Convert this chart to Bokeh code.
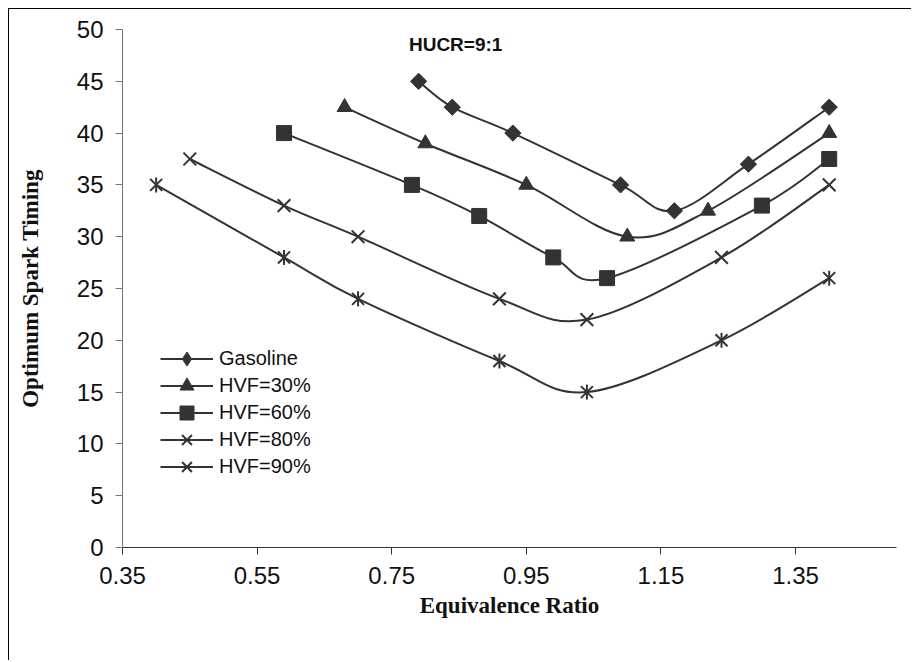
import numpy as np
from bokeh.plotting import figure
from bokeh.models import (FixedTicker, PrintfTickFormatter, Legend, LegendItem, Label,
                          ColumnDataSource)
from bokeh.embed import file_html
from bokeh.resources import INLINE

# ---- data ----
gas_x = [0.79, 0.84, 0.93, 1.09, 1.17, 1.28, 1.40]
gas_y = [45, 42.5, 40, 35, 32.5, 37, 42.5]
h30_x = [0.68, 0.80, 0.95, 1.10, 1.22, 1.40]
h30_y = [42.5, 39, 35, 30, 32.5, 40]
h60_x = [0.59, 0.78, 0.88, 0.99, 1.07, 1.30, 1.40]
h60_y = [40, 35, 32, 28, 26, 33, 37.5]
h80_x = [0.45, 0.59, 0.70, 0.91, 1.04, 1.24, 1.40]
h80_y = [37.5, 33, 30, 24, 22, 28, 35]
h90_x = [0.40, 0.59, 0.70, 0.91, 1.04, 1.24, 1.40]
h90_y = [35, 28, 24, 18, 15, 20, 26]
series_names = ["Gasoline", "HVF=30%", "HVF=60%", "HVF=80%", "HVF=90%"]
x_ticks = [0.35, 0.55, 0.75, 0.95, 1.15, 1.35]
y_ticks = [0, 5, 10, 15, 20, 25, 30, 35, 40, 45, 50]

INK = "#333333"


def bezier_source(xs, ys):
    """Smooth (Excel-style) Bezier segments through the data points."""
    x = np.asarray(xs, float)
    y = np.asarray(ys, float)
    n = len(x)
    xp = np.concatenate([[x[0]], x, [x[-1]]])
    yp = np.concatenate([[y[0]], y, [y[-1]]])
    d = dict(x0=[], y0=[], x1=[], y1=[], cx0=[], cy0=[], cx1=[], cy1=[])
    for i in range(n - 1):
        j = i + 1
        d["x0"].append(x[i]); d["y0"].append(y[i])
        d["x1"].append(x[i + 1]); d["y1"].append(y[i + 1])
        d["cx0"].append(x[i] + (xp[j + 1] - xp[j - 1]) / 6)
        d["cy0"].append(y[i] + (yp[j + 1] - yp[j - 1]) / 6)
        d["cx1"].append(x[i + 1] - (xp[j + 2] - xp[j]) / 6)
        d["cy1"].append(y[i + 1] - (yp[j + 2] - yp[j]) / 6)
    return ColumnDataSource(d)


p = figure(width=903, height=652, x_range=(0.35, 1.5), y_range=(0, 50),
           output_backend="svg", toolbar_location=None,
           min_border_left=113, min_border_right=16, min_border_top=20,
           min_border_bottom=114)
p.styles = {"margin-left": "8px", "margin-top": "8px",
            "border-left": "1px solid #000000", "border-top": "1px solid #000000"}
p.outline_line_color = None
p.xgrid.visible = False
p.ygrid.visible = False
p.background_fill_color = "white"
p.border_fill_color = "white"

series = [(gas_x, gas_y), (h30_x, h30_y), (h60_x, h60_y), (h80_x, h80_y), (h90_x, h90_y)]
for k, ((xs, ys), name) in enumerate(zip(series, series_names)):
    src = bezier_source(xs, ys)
    rends = [p.bezier(x0="x0", y0="y0", x1="x1", y1="y1", cx0="cx0", cy0="cy0",
                      cx1="cx1", cy1="cy1", source=src, line_color=INK, line_width=2)]
    if k == 0:
        p.scatter(xs, ys, marker="square", angle=np.pi / 4, size=11.5,
                  fill_color=INK, line_color=INK)
        # diamond used for the legend swatch (legend ignores marker angle)
        rends.append(p.scatter(xs, ys, marker="diamond", size=0.1,
                               fill_color=INK, line_color=INK))
    elif k == 1:
        rends.append(p.scatter(xs, ys, marker="triangle", size=15,
                               fill_color=INK, line_color=INK))
    elif k == 2:
        rends.append(p.scatter(xs, ys, marker="square", size=15,
                               fill_color=INK, line_color=INK))
    elif k == 3:
        rends.append(p.scatter(xs, ys, marker="x", size=18,
                               line_color=INK, line_width=2))
    else:
        rends.append(p.scatter(xs, ys, marker="x", size=17,
                               line_color=INK, line_width=2))
        rends.append(p.scatter(xs, ys, marker="dash", angle=np.pi / 2, size=15,
                               line_color=INK, line_width=2))
    # one single-entry legend per series, stacked 27px apart
    leg = Legend(items=[LegendItem(label=name, renderers=rends)],
                 location=(38, 63 + 27 * (len(series) - 1 - k)),
                 border_line_color=None, background_fill_alpha=0,
                 padding=0, margin=0, spacing=0,
                 glyph_width=53, glyph_height=35, label_height=27,
                 label_standoff=6, label_text_font="Liberation Sans",
                 label_text_font_size="20px", label_text_color="#111111")
    p.add_layout(leg, "center")

title = Label(x=0.845, y=48.6, text="HUCR=9:1", text_align="center",
              text_baseline="middle", text_font="Liberation Sans",
              text_font_style="bold", text_font_size="19px", text_color="#111111")
p.add_layout(title)

# axes
xa = p.xaxis[0]
xa.ticker = FixedTicker(ticks=x_ticks)
xa.formatter = PrintfTickFormatter(format="%.2f")
xa.axis_label = "Equivalence Ratio"
ya = p.yaxis[0]
ya.ticker = FixedTicker(ticks=y_ticks)
ya.formatter = PrintfTickFormatter(format="%d")
ya.axis_label = "Optimum Spark Timing"
for ax in (xa, ya):
    ax.major_tick_in = 0
    ax.major_tick_out = 7
    ax.minor_tick_out = 0
    ax.minor_tick_in = 0
    ax.major_label_text_font = "Liberation Sans"
    ax.major_label_text_font_size = "24px"
    ax.major_label_text_color = "#111111"
    ax.axis_label_text_font = "Liberation Serif"
    ax.axis_label_text_font_style = "bold"
    ax.axis_label_text_font_size = "23px"
    ax.axis_label_text_color = "#111111"
xa.axis_line_color = "#333333"
xa.major_tick_line_color = "#333333"
ya.axis_line_color = "#777777"
ya.major_tick_line_color = "#777777"
xa.major_label_standoff = 12
ya.major_label_standoff = 12
xa.axis_label_standoff = 6
ya.axis_label_standoff = 31

open("out.html", "w").write(file_html(p, INLINE))
